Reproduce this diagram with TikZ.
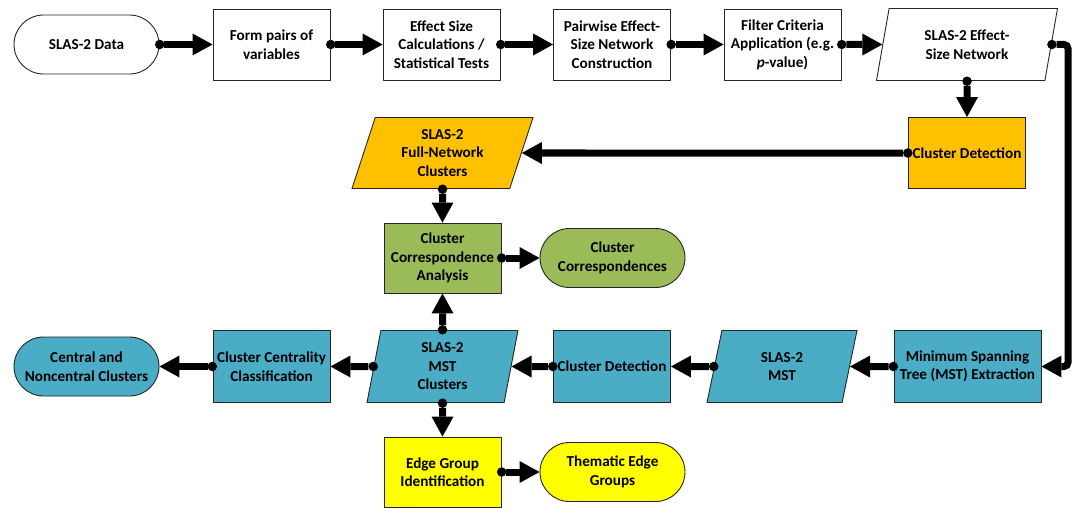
\documentclass[tikz,border=0pt]{standalone}
\usepackage{fontspec}
\setmainfont{Carlito}
\usetikzlibrary{arrows.meta,shapes.geometric}
\definecolor{orng}{HTML}{FFC000}
\definecolor{grn}{HTML}{9BBB59}
\definecolor{blu}{HTML}{4BACC6}
\definecolor{ylw}{HTML}{FFFF00}
\begin{document}
\begin{tikzpicture}[x=1pt,y=-1pt,
  box/.style={draw=black!85, line width=0.9pt, rectangle, fill=white,
    minimum width=117pt, minimum height=71pt, inner sep=1.5pt, align=center,
    font=\fontsize{15.2}{18.5}\selectfont\bfseries},
  term/.style={box, rounded corners=29.5pt, minimum width=145pt, minimum height=59pt},
  para/.style={box, trapezium, trapezium stretches body},
  conn/.style={line width=7pt, rounded corners=4pt, shorten <=-4.5pt,
    {Circle[length=9.5pt,line width=0pt]}-{Triangle[length=20pt,width=22pt,line width=0pt]}}
]
\useasboundingbox (0,0) rectangle (1078,508);

% row 1
\node[term] (data) at (86.5,44.5) {SLAS-2 Data};
\node[box] (form) at (271.5,44.5) {Form pairs of\\variables};
\node[box] (eff) at (441.5,44.5) {Effect Size\\Calculations /\\Statistical Tests};
\node[box] (pair) at (612,44.5) {Pairwise Effect-\\Size Network\\Construction};
\node[box] (filt) at (782.5,44.5) {Filter Criteria\\Application (e.g.\\\textit{p}-value)};
\node[para, trapezium left angle=68.7, trapezium right angle=111.3,
  minimum width=181pt, minimum height=72pt] (esn) at (967,44.5) {SLAS-2 Effect-\\Size Network};

% row 2
\node[box, fill=orng] (ocd) at (967,153) {Cluster Detection};
\node[para, fill=orng, trapezium left angle=65.1, trapezium right angle=114.9,
  minimum width=181pt, minimum height=71pt] (opara) at (442.5,153) {SLAS-2\\Full-Network\\Clusters};
\node[box, fill=grn, minimum height=70pt] (cca) at (442.5,258) {Cluster\\Correspondence\\Analysis};
\node[term, fill=grn] (cco) at (612.5,258) {Cluster\\Correspondences};

% row 3
\node[term, fill=blu] (cnc) at (86.5,366.5) {Central and\\Noncentral Clusters};
\node[box, fill=blu, minimum height=72pt] (ccc) at (271.5,366.5) {Cluster Centrality\\Classification};
\node[para, fill=blu, trapezium left angle=74.5, trapezium right angle=105.5,
  minimum width=151pt, minimum height=72pt] (mstc) at (442.5,366.5) {SLAS-2\\MST\\Clusters};
\node[box, fill=blu, minimum height=72pt] (bcd) at (612,366.5) {Cluster Detection};
\node[para, fill=blu, trapezium left angle=64.7, trapezium right angle=115.3,
  minimum width=150pt, minimum height=72pt] (mst) at (782,366.5) {SLAS-2\\MST};
\node[box, fill=blu, minimum width=147pt, minimum height=72pt] (mste) at (967.5,366.5) {Minimum Spanning\\Tree (MST) Extraction};

% row 4
\node[box, fill=ylw, minimum height=70pt] (egi) at (442.5,472) {Edge Group\\Identification};
\node[term, fill=ylw] (teg) at (612.5,472) {Thematic Edge\\Groups};

\coordinate (c1) at (1068,44.5);
\coordinate (c2) at (1068,366.5);

% connectors
\draw[conn] (data) -- (form);
\draw[conn] (form) -- (eff);
\draw[conn] (eff) -- (pair);
\draw[conn] (pair) -- (filt);
\draw[conn] (filt) -- (esn);
\draw[conn] (esn) -- (ocd);
\draw[conn] (ocd) -- (opara);
\draw[conn] (opara) -- (cca);
\draw[conn] (cca) -- (cco);
\draw[conn] (esn.east) -- (c1) -- (c2) -- (mste.east);
\draw[conn] (mste) -- (mst);
\draw[conn] (mst) -- (bcd);
\draw[conn] (bcd) -- (mstc);
\draw[conn] (mstc) -- (cca);
\draw[conn] (mstc) -- (ccc);
\draw[conn] (ccc) -- (cnc);
\draw[conn] (mstc) -- (egi);
\draw[conn] (egi) -- (teg);
\end{tikzpicture}
\end{document}
